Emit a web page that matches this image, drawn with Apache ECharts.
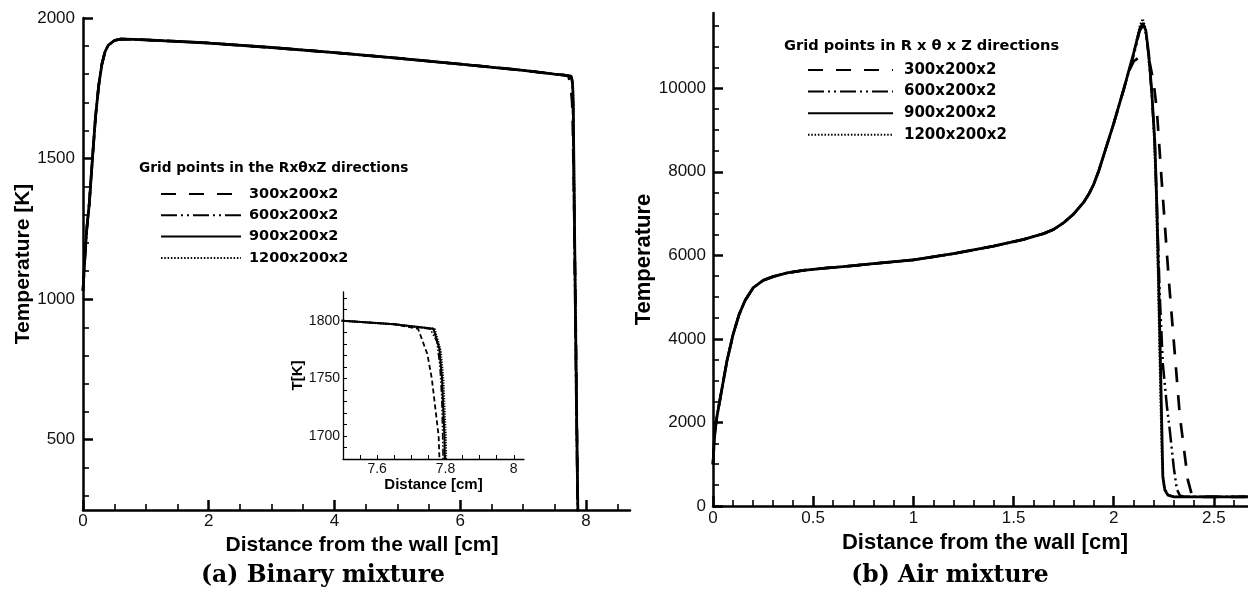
<!DOCTYPE html>
<html>
<head>
<meta charset="utf-8">
<title>Temperature profiles – grid convergence</title>
<script src="https://cdn.jsdelivr.net/npm/echarts@6/dist/echarts.min.js"></script>
<style>
  html, body { margin: 0; padding: 0; background: #fff; }
  #chart { width: 1248px; height: 598px; }
</style>
</head>
<body>
<div id="chart"></div>
<script>
// ---- grid resolutions (R x theta x Z) ----
const gridNames = ['300x200x2', '600x200x2', '900x200x2', '1200x200x2'];

// ---- (a) binary mixture: distance [cm] vs temperature [K] ----
// profile shared by all resolutions up to the drop near the far wall
const binaryBodyX = [0, 0.03, 0.06, 0.1, 0.15, 0.2, 0.25, 0.3, 0.35, 0.4, 0.5, 0.6, 0.8, 1, 2, 3, 4, 5, 6, 7, 7.5, 7.65];
const binaryBodyT = [1030, 1150, 1250, 1340, 1500, 1650, 1760, 1835, 1880, 1903, 1920, 1925, 1924, 1922, 1911, 1895, 1877, 1857, 1836, 1814, 1800, 1797];
// the temperature drop, one per resolution
const binaryTail300X  = [7.72, 7.747, 7.76, 7.772, 7.78, 7.79, 7.81, 7.835, 7.86, 7.87];
const binaryTail300T  = [1793, 1771, 1750, 1720, 1700, 1620, 1350, 950, 450, 150];
const binaryTail600X  = [7.755, 7.775, 7.784, 7.789, 7.792, 7.805, 7.825, 7.845, 7.865, 7.872];
const binaryTail600T  = [1793, 1782, 1760, 1735, 1700, 1450, 1050, 650, 300, 150];
const binaryTail900X  = [7.765, 7.782, 7.79, 7.794, 7.797, 7.81, 7.83, 7.85, 7.87, 7.876];
const binaryTail900T  = [1793, 1776, 1750, 1720, 1700, 1420, 1000, 600, 260, 150];
const binaryTail1200X = [7.768, 7.786, 7.794, 7.798, 7.801, 7.814, 7.834, 7.854, 7.874, 7.88];
const binaryTail1200T = [1793, 1774, 1748, 1718, 1698, 1420, 1000, 600, 260, 150];

// ---- (b) air mixture: distance [cm] vs temperature ----
const airBodyX = [0, 0.005, 0.01, 0.02, 0.035, 0.05, 0.07, 0.1, 0.13, 0.16, 0.2, 0.25, 0.3, 0.37, 0.45, 0.55, 0.65, 0.8, 1.0, 1.2, 1.4, 1.55, 1.65, 1.7, 1.75, 1.8, 1.85, 1.875, 1.9, 1.925, 1.95, 2.0, 2.05];
const airBodyT = [1000, 1450, 1800, 2150, 2550, 2950, 3480, 4100, 4580, 4920, 5220, 5400, 5490, 5580, 5640, 5690, 5730, 5800, 5890, 6040, 6220, 6380, 6520, 6620, 6780, 6990, 7270, 7460, 7700, 8020, 8400, 9160, 9980];
const airTail300X  = [2.075, 2.1, 2.13, 2.16, 2.18, 2.2, 2.215, 2.24, 2.275, 2.33, 2.37, 2.39, 2.42, 2.7];
const airTail300T  = [10400, 10650, 10750, 10740, 10600, 10100, 9480, 7730, 5400, 2150, 620, 260, 220, 220];
const airTail600X  = [2.1, 2.13, 2.145, 2.16, 2.175, 2.19, 2.205, 2.215, 2.23, 2.245, 2.265, 2.28, 2.3, 2.315, 2.33, 2.35, 2.7];
const airTail600T  = [10800, 11380, 11480, 11320, 10750, 9850, 8650, 7200, 5000, 3400, 2400, 1800, 900, 400, 250, 220, 220];
const airTail900X  = [2.1, 2.13, 2.145, 2.16, 2.175, 2.19, 2.205, 2.215, 2.225, 2.235, 2.245, 2.255, 2.27, 2.3, 2.7];
const airTail900T  = [10850, 11420, 11560, 11380, 10800, 9900, 8700, 7200, 5200, 3000, 700, 380, 260, 220, 220];
const airTail1200X = [2.1, 2.13, 2.145, 2.16, 2.175, 2.19, 2.2, 2.21, 2.22, 2.23, 2.24, 2.25, 2.27, 2.3, 2.7];
const airTail1200T = [10850, 11500, 11660, 11420, 10750, 9800, 8900, 7600, 5600, 3200, 1100, 500, 270, 220, 220];

// ---- axis ticks and labels ----
const binaryTicksX = [0, 2, 4, 6, 8];
const binaryTicksT = [500, 1000, 1500, 2000];
const airTicksX = [0, 0.5, 1, 1.5, 2, 2.5];
const airTicksT = [0, 2000, 4000, 6000, 8000, 10000];
const insetTicksX = [7.6, 7.8, 8];
const insetTicksT = [1700, 1750, 1800];

// evenly spaced tick positions, skipping the labelled ones
function tickRange(start, stop, step, skip) {
  const out = [];
  const n = Math.round((stop - start) / step);
  for (let i = 0; i <= n; i++) {
    const v = +(start + i * step).toFixed(4);
    if (!skip || !skip.some(s => Math.abs(s - v) < 1e-6)) out.push(v);
  }
  return out;
}

function pairs(xs, ys) { return xs.map((x, i) => [x, ys[i]]); }
const plain = v => String(+(+v).toFixed(4));

const binaryData = [
  pairs(binaryBodyX.concat(binaryTail300X),  binaryBodyT.concat(binaryTail300T)),
  pairs(binaryBodyX.concat(binaryTail600X),  binaryBodyT.concat(binaryTail600T)),
  pairs(binaryBodyX.concat(binaryTail900X),  binaryBodyT.concat(binaryTail900T)),
  pairs(binaryBodyX.concat(binaryTail1200X), binaryBodyT.concat(binaryTail1200T))
];
const airData = [
  pairs(airBodyX.concat(airTail300X),  airBodyT.concat(airTail300T)),
  pairs(airBodyX.concat(airTail600X),  airBodyT.concat(airTail600T)),
  pairs(airBodyX.concat(airTail900X),  airBodyT.concat(airTail900T)),
  pairs(airBodyX.concat(airTail1200X), airBodyT.concat(airTail1200T))
];

// line styles: dashed, dash-dot-dot, solid, dotted
const lineStyles = [
  { type: [15, 13], width: 2.7 },
  { type: [16, 4, 2, 4, 2, 4], width: 2.5 },
  { type: 'solid', width: 2.8 },
  { type: [1.5, 1.8], width: 2 }
];
const insetLineStyles = [
  { type: [5, 3], width: 1.8 },
  { type: [7, 2, 1.5, 2, 1.5, 2], width: 1.6 },
  { type: 'solid', width: 2 },
  { type: [1.2, 1.4], width: 2.2 }
];

const tickFont = { fontFamily: 'Liberation Sans', fontSize: 17, color: '#111', formatter: plain };
const nameFont = { fontFamily: 'Liberation Sans', fontWeight: 'bold', color: '#000' };

function majorAxis(gridIndex, min, max, ticks, extra) {
  return Object.assign({
    type: 'value', gridIndex: gridIndex, min: min, max: max,
    axisLine: { show: true, lineStyle: { color: '#000', width: 2.5 } },
    axisTick: { show: true, inside: true, length: 10, customValues: ticks, lineStyle: { color: '#000', width: 2.5 } },
    axisLabel: Object.assign({ customValues: ticks }, tickFont),
    minorTick: { show: false },
    splitLine: { show: false }
  }, extra || {});
}
function minorAxis(gridIndex, min, max, ticks, position) {
  return {
    type: 'value', gridIndex: gridIndex, min: min, max: max, position: position,
    axisLine: { show: false },
    axisTick: { show: true, inside: true, length: 6, customValues: ticks, lineStyle: { color: '#000', width: 1.6 } },
    axisLabel: { show: false },
    splitLine: { show: false }
  };
}

const series = [];
gridNames.forEach((name, i) => {
  series.push({ name: name, type: 'line', xAxisIndex: 0, yAxisIndex: 0, data: binaryData[i],
    symbol: 'none', lineStyle: Object.assign({ color: '#000' }, lineStyles[i]), z: 2 + (i === 2 ? 1 : 0) });
});
gridNames.forEach((name, i) => {
  series.push({ name: name, type: 'line', xAxisIndex: 2, yAxisIndex: 2, data: airData[i],
    symbol: 'none', lineStyle: Object.assign({ color: '#000' }, lineStyles[i]), z: 2 + (i === 2 ? 1 : 0) });
});
gridNames.forEach((name, i) => {
  series.push({ name: name, type: 'line', xAxisIndex: 4, yAxisIndex: 4, data: binaryData[i],
    symbol: 'none', lineStyle: Object.assign({ color: '#000' }, insetLineStyles[i]) });
});

const legendText = { fontFamily: 'DejaVu Sans', fontWeight: 'bold', color: '#000' };

const option = {
  animation: false,
  backgroundColor: '#fff',
  grid: [
    { left: 83, top: 18, width: 547, height: 492 },   // (a) binary
    { left: 713, top: 13, width: 535, height: 493 },  // (b) air
    { left: 343, top: 292, width: 181, height: 167 }  // (a) close-up near the far wall
  ],
  xAxis: [
    majorAxis(0, 0, 8.7, binaryTicksX, {
      position: 'bottom',
      axisLabel: Object.assign({ customValues: binaryTicksX, margin: 3 }, tickFont),
      name: 'Distance from the wall [cm]', nameLocation: 'middle', nameGap: 19,
      nameTextStyle: Object.assign({ fontSize: 21, padding: [0, 0, 0, 11] }, nameFont)
    }),
    minorAxis(0, 0, 8.7, tickRange(0, 8.5, 0.5, binaryTicksX), 'bottom'),
    majorAxis(1, 0, 2.67, airTicksX, {
      position: 'bottom',
      axisLabel: Object.assign({ customValues: airTicksX, margin: 4 }, tickFont),
      name: 'Distance from the wall [cm]', nameLocation: 'middle', nameGap: 24,
      nameTextStyle: Object.assign({ fontSize: 22, padding: [0, 0, 0, 9] }, nameFont)
    }),
    minorAxis(1, 0, 2.67, tickRange(0, 2.6, 0.1, airTicksX), 'bottom'),
    {
      type: 'value', gridIndex: 2, min: 7.5, max: 8.03, position: 'bottom',
      axisLine: { show: true, lineStyle: { color: '#000', width: 1.3 } },
      axisTick: { show: true, inside: true, length: 4, customValues: tickRange(7.5, 8.0, 0.05), lineStyle: { color: '#000', width: 1 } },
      axisLabel: { customValues: insetTicksX, margin: 3, fontFamily: 'Liberation Sans', fontSize: 14, color: '#111', formatter: plain },
      splitLine: { show: false },
      name: 'Distance [cm]', nameLocation: 'middle', nameGap: 16,
      nameTextStyle: Object.assign({ fontSize: 15 }, nameFont)
    }
  ],
  yAxis: [
    majorAxis(0, 250, 2000, binaryTicksT, {
      position: 'left',
      axisLabel: Object.assign({ customValues: binaryTicksT, margin: 8 }, tickFont),
      name: 'Temperature [K]', nameLocation: 'middle', nameGap: 48,
      nameTextStyle: Object.assign({ fontSize: 21 }, nameFont)
    }),
    minorAxis(0, 250, 2000, tickRange(300, 1900, 100, binaryTicksT), 'left'),
    majorAxis(1, 0, 11800, airTicksT, {
      position: 'left',
      axisLabel: Object.assign({ customValues: airTicksT, margin: 7 }, tickFont),
      name: 'Temperature', nameLocation: 'middle', nameGap: 54,
      nameTextStyle: Object.assign({ fontSize: 22 }, nameFont)
    }),
    minorAxis(1, 0, 11800, tickRange(0, 11500, 500, airTicksT), 'left'),
    {
      type: 'value', gridIndex: 2, min: 1680, max: 1825, position: 'left',
      axisLine: { show: true, lineStyle: { color: '#000', width: 1.3 } },
      axisTick: { show: true, inside: true, length: 4, customValues: tickRange(1680, 1820, 10), lineStyle: { color: '#000', width: 1 } },
      axisLabel: { customValues: insetTicksT, margin: 3, fontFamily: 'Liberation Sans', fontSize: 14, color: '#111', formatter: plain },
      splitLine: { show: false },
      name: 'T[K]', nameLocation: 'middle', nameGap: 31,
      nameTextStyle: Object.assign({ fontSize: 15 }, nameFont)
    }
  ],
  legend: [
    {
      data: gridNames, orient: 'vertical', left: 155, top: 181,
      itemWidth: 80, itemHeight: 16, itemGap: 5.3, selectedMode: false,
      itemStyle: { opacity: 0 },
      textStyle: Object.assign({ fontSize: 14.5, lineHeight: 16, padding: [0, 0, 0, 3] }, legendText)
    },
    {
      data: gridNames, orient: 'vertical', left: 802, top: 57,
      itemWidth: 85, itemHeight: 16, itemGap: 5.6, selectedMode: false,
      itemStyle: { opacity: 0 },
      textStyle: Object.assign({ fontSize: 15, lineHeight: 16, padding: [0, 0, 0, 6] }, legendText)
    }
  ],
  graphic: [
    { type: 'text', x: 139, y: 168, style: { text: 'Grid points in the Rx\u03b8xZ directions', font: 'bold 13.7px "DejaVu Sans"', fill: '#000', textAlign: 'left', textVerticalAlign: 'middle', align: 'left', verticalAlign: 'middle' } },
    { type: 'text', x: 784, y: 46, style: { text: 'Grid points in R x \u03b8 x Z directions', font: 'bold 14.6px "DejaVu Sans"', fill: '#000', textAlign: 'left', textVerticalAlign: 'middle', align: 'left', verticalAlign: 'middle' } },
    { type: 'text', x: 323, y: 576, style: { text: '(a) Binary mixture', font: 'bold 23.5px "DejaVu Serif"', fill: '#000', textAlign: 'center', textVerticalAlign: 'middle', align: 'center', verticalAlign: 'middle' } },
    { type: 'text', x: 950, y: 576, style: { text: '(b) Air mixture', font: 'bold 23.5px "DejaVu Serif"', fill: '#000', textAlign: 'center', textVerticalAlign: 'middle', align: 'center', verticalAlign: 'middle' } }
  ],
  series: series
};

const chart = echarts.init(document.getElementById('chart'), null, { renderer: 'canvas' });
chart.setOption(option);
</script>
</body>
</html>
